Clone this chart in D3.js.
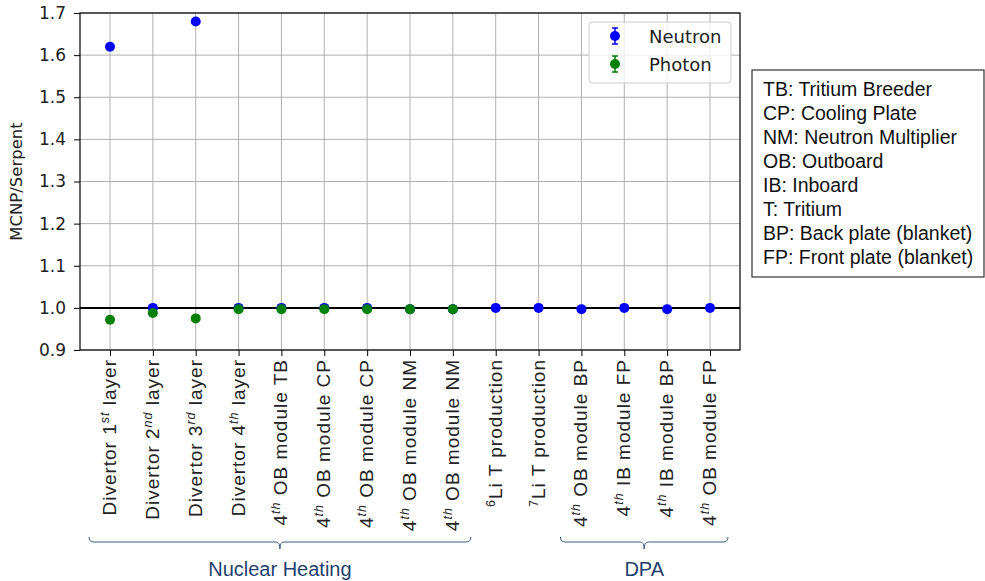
<!DOCTYPE html>
<html>
<head>
<meta charset="utf-8">
<script src="https://d3js.org/d3.v7.min.js"></script>
<style>
  body { margin: 0; background: #fff; }
  svg { font-family: "DejaVu Sans", sans-serif; }
</style>
</head>
<body>
<div id="container"></div>
<script>
const width = 985;
const height = 581;

// category labels: [prefix-sup, main, superscript, rest]
const categories = [
  ["", "Divertor 1", "st", " layer"],
  ["", "Divertor 2", "nd", " layer"],
  ["", "Divertor 3", "rd", " layer"],
  ["", "Divertor 4", "th", " layer"],
  ["", "4", "th", " OB module TB"],
  ["", "4", "th", " OB module CP"],
  ["", "4", "th", " OB module CP"],
  ["", "4", "th", " OB module NM"],
  ["", "4", "th", " OB module NM"],
  ["6", "Li T production", "", ""],
  ["7", "Li T production", "", ""],
  ["", "4", "th", " OB module BP"],
  ["", "4", "th", " IB module FP"],
  ["", "4", "th", " IB module BP"],
  ["", "4", "th", " OB module FP"]
];

const neutron = [1.62, 1.0, 1.68, 1.0, 1.0, 1.0, 1.0, 0.997, 0.997, 1.0, 1.0, 0.997, 1.0, 0.997, 1.0];
const photon = [0.972, 0.988, 0.975, 0.997, 0.997, 0.997, 0.997, 0.997, 0.997, null, null, null, null, null, null];

const yTicks = [0.9, 1.0, 1.1, 1.2, 1.3, 1.4, 1.5, 1.6, 1.7];

const groups = [
  {name: "Nuclear Heating", from: 0, to: 8},
  {name: "DPA", from: 11, to: 14}
];

const abbreviations = [
  "TB: Tritium Breeder",
  "CP: Cooling Plate",
  "NM: Neutron Multiplier",
  "OB: Outboard",
  "IB: Inboard",
  "T: Tritium",
  "BP: Back plate (blanket)",
  "FP: Front plate (blanket)"
];

const plot = {left: 80, right: 740, top: 13, bottom: 350};

const svg = d3.select("#container").append("svg")
    .attr("width", width)
    .attr("height", height);

const x = d3.scaleLinear()
    .domain([-0.7, categories.length - 1 + 0.7])
    .range([plot.left, plot.right]);

const y = d3.scaleLinear()
    .domain([0.9, 1.7])
    .range([plot.bottom, plot.top]);

// grid
svg.append("g")
    .selectAll("line")
    .data(d3.range(categories.length))
    .enter().append("line")
    .attr("x1", d => x(d)).attr("x2", d => x(d))
    .attr("y1", plot.top).attr("y2", plot.bottom)
    .attr("stroke", "#b0b0b0").attr("stroke-width", 1);

svg.append("g")
    .selectAll("line")
    .data(yTicks)
    .enter().append("line")
    .attr("x1", plot.left).attr("x2", plot.right)
    .attr("y1", d => y(d)).attr("y2", d => y(d))
    .attr("stroke", "#b0b0b0").attr("stroke-width", 1);

// reference line at 1.0
svg.append("line")
    .attr("x1", plot.left).attr("x2", plot.right)
    .attr("y1", y(1.0)).attr("y2", y(1.0))
    .attr("stroke", "#000").attr("stroke-width", 2);

// axes
const yAxis = svg.append("g")
    .attr("transform", `translate(${plot.left},0)`)
    .call(d3.axisLeft(y).tickValues(yTicks).tickFormat(d3.format(".1f")).tickSize(6).tickPadding(8));
yAxis.selectAll("text").attr("font-size", 17).attr("fill", "#222").attr("font-family", "DejaVu Sans");
yAxis.select(".domain").remove();

const xAxis = svg.append("g")
    .attr("transform", `translate(0,${plot.bottom})`)
    .call(d3.axisBottom(x).tickValues(d3.range(categories.length)).tickFormat("").tickSize(6));
xAxis.select(".domain").remove();

svg.append("rect")
    .attr("x", plot.left).attr("y", plot.top)
    .attr("width", plot.right - plot.left).attr("height", plot.bottom - plot.top)
    .attr("fill", "none").attr("stroke", "#000").attr("stroke-width", 1.2);

// x labels
const labels = svg.append("g")
    .selectAll("text")
    .data(categories)
    .enter().append("text")
    .attr("transform", (d, i) => `translate(${x(i) + 6},${plot.bottom + 9}) rotate(-90)`)
    .attr("text-anchor", "end")
    .attr("font-family", "Liberation Sans, Arial, sans-serif")
    .attr("font-size", 19)
    .attr("letter-spacing", 1)
    .attr("fill", "#222");

labels.each(function(d) {
  const t = d3.select(this);
  if (d[0]) t.append("tspan").attr("font-size", 12.5).attr("dy", -7).text(d[0]);
  t.append("tspan").attr("dy", d[0] ? 7 : 0).text(d[1]);
  if (d[2]) t.append("tspan").attr("font-size", 12.5).attr("font-style", "italic").attr("dy", -7).text(d[2]);
  if (d[3]) t.append("tspan").attr("dy", 7).text(d[3]);
});

// y label
svg.append("text")
    .attr("transform", `translate(22,${(plot.top + plot.bottom) / 2}) rotate(-90)`)
    .attr("text-anchor", "middle")
    .attr("font-size", 16.5)
    .attr("fill", "#222")
    .text("MCNP/Serpent");

// points
svg.append("g")
    .selectAll("circle")
    .data(neutron)
    .enter().append("circle")
    .attr("cx", (d, i) => x(i))
    .attr("cy", d => y(d))
    .attr("r", 5)
    .attr("fill", "#0000ff");

svg.append("g")
    .selectAll("circle")
    .data(photon.map((v, i) => ({v, i})).filter(d => d.v !== null))
    .enter().append("circle")
    .attr("cx", d => x(d.i))
    .attr("cy", d => y(d.v))
    .attr("r", 5)
    .attr("fill", "#008000");

// legend
const legend = svg.append("g").attr("transform", "translate(589,22)");
legend.append("rect")
    .attr("width", 142).attr("height", 61).attr("rx", 3)
    .attr("fill", "#fff").attr("fill-opacity", 0.8)
    .attr("stroke", "#ccc");
[["Neutron", "#0000ff"], ["Photon", "#008000"]].forEach(([name, c], i) => {
  const g = legend.append("g").attr("transform", `translate(26,${14 + i * 28})`);
  g.append("line").attr("y1", -8).attr("y2", 8).attr("stroke", c).attr("stroke-width", 1.5);
  g.append("line").attr("x1", -3).attr("x2", 3).attr("y1", -8).attr("y2", -8).attr("stroke", c).attr("stroke-width", 1.5);
  g.append("line").attr("x1", -3).attr("x2", 3).attr("y1", 8).attr("y2", 8).attr("stroke", c).attr("stroke-width", 1.5);
  g.append("circle").attr("r", 5).attr("fill", c);
  g.append("text").attr("x", 34).attr("y", 6.5)
      .attr("font-size", 18).attr("fill", "#222").text(name);
});

// group brackets
const bracketColor = "#3a5a80";
groups.forEach(g => {
  const x0 = x(g.from) - 21, x1 = x(g.to) + 18, xm = (x0 + x1) / 2;
  const yb = 542;
  svg.append("path")
      .attr("d", `M${x0},${yb - 5} Q${x0},${yb} ${x0 + 5},${yb} L${xm - 4},${yb} Q${xm},${yb} ${xm},${yb + 7} Q${xm},${yb} ${xm + 4},${yb} L${x1 - 5},${yb} Q${x1},${yb} ${x1},${yb - 5}`)
      .attr("fill", "none")
      .attr("stroke", bracketColor)
      .attr("stroke-width", 1);
  svg.append("text")
      .attr("x", xm).attr("y", 576)
      .attr("text-anchor", "middle")
      .attr("font-family", "Liberation Sans, Arial, sans-serif")
      .attr("font-size", 20)
      .attr("fill", "#1f3f6e")
      .text(g.name);
});

// abbreviations box
const abbr = svg.append("g").attr("transform", "translate(752,70)");
abbr.append("rect")
    .attr("width", 232).attr("height", 207)
    .attr("fill", "#fff").attr("stroke", "#333").attr("stroke-width", 1.2);
abbr.selectAll("text")
    .data(abbreviations)
    .enter().append("text")
    .attr("x", 11)
    .attr("y", (d, i) => 26 + i * 24)
    .attr("font-family", "Liberation Sans, Arial, sans-serif")
    .attr("font-size", 19.5)
    .attr("fill", "#111")
    .text(d => d);
</script>
</body>
</html>
